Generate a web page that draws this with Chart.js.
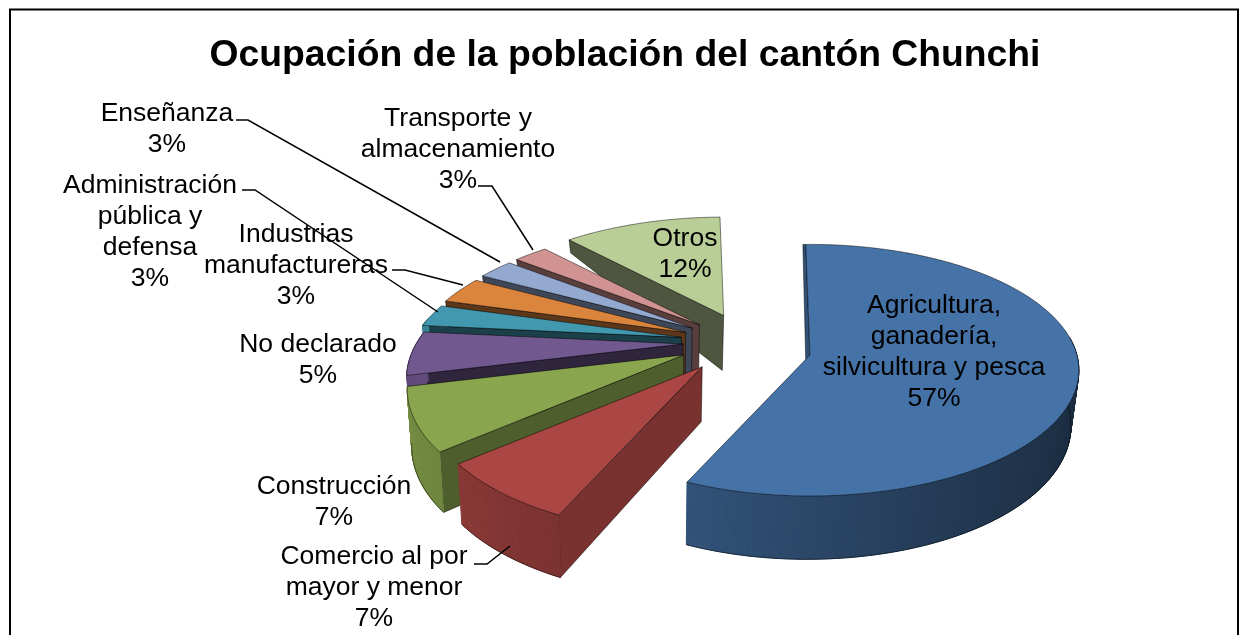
<!DOCTYPE html>
<html><head><meta charset="utf-8">
<style>html,body{margin:0;padding:0;background:#fff;overflow:hidden}#w{width:1240px;height:635px}</style>
<script src="https://cdn.jsdelivr.net/npm/chart.js@4"></script></head>
<body><div id="w"><canvas id="c" width="1240" height="635"></canvas></div>
<script>
const categories = ["Agricultura, ganadería, silvicultura y pesca","Comercio al por mayor y menor","Construcción","No declarado","Administración pública y defensa","Industrias manufactureras","Enseñanza","Transporte y almacenamiento","Otros"];
const percentages = [57,7,7.45,5.4,2.8,3.45,2.6,2.5,11.8];
const sliceColors = ["#4572A7","#AA4643","#89A54E","#71588F","#4198AF","#DB843D","#93A9CF","#D19392","#B9CD96"];
const explosion = [21,33,30,27,28,28,28,28,31];
const titleText = "Ocupación de la población del cantón Chunchi";
const labelLines = [
 ["Agricultura,","ganadería,","silvicultura y pesca","57%"],
 ["Comercio al por","mayor y menor","7%"],
 ["Construcción","7%"],
 ["No declarado","5%"],
 ["Administración","pública y","defensa","3%"],
 ["Industrias","manufactureras","3%"],
 ["Enseñanza","3%"],
 ["Transporte y","almacenamiento","3%"],
 ["Otros","12%"]];
const labelAnchors = [[934,306],[374,557],[334,487],[318,345],[150,186],[296,235],[167,114],[458,119],[685,239]];
const leaderLines = [
 [[474,564],[487,564],[510,546]],
 [[242,190],[255,190],[438,312]],
 [[392,270],[405,270],[463,285]],
 [[236,120],[248,120],[500,262]],
 [[478,186],[492,186],[533,250]]];
const view = {panX:130, rx:267, ry:124, perspNear:0.12, perspFar:0.26, liftNear:9, depth:55, vanishX:650, shrink:0.0186, vExplode:0.75};

function rgb(hex){const n=parseInt(hex.slice(1),16);return [(n>>16)&255,(n>>8)&255,n&255];}
function shade(c,f){return `rgb(${c.map(x=>Math.round(x*f)).join(",")})`;}

const pie3d = {
 id:"pie3d",
 beforeDatasetDraw(chart,args){
  const ctx=chart.ctx, arcs=chart.getDatasetMeta(args.index).data;
  const list=arcs.map((arc)=>{
    const s=arc.startAngle+Math.PI/2, t=arc.endAngle+Math.PI/2, m=(s+t)/2;
    return {arc,s,t,m,mu:Math.sin(m),mv:-Math.cos(m),e:arc.options.offset/100,col:rgb(arc.options.backgroundColor)};
  }).sort((a,b)=>a.mv-b.mv);
  ctx.save();
  ctx.lineJoin="round";
  for(const q of list){
    const far=q.e>=0.25, p=far?view.perspFar:view.perspNear;
    const ax=q.arc.x+view.panX+view.rx*q.e*q.mu;
    const ay=q.arc.y+view.ry*view.vExplode*q.e*q.mv+(far?0:view.liftNear);
    const P=(a,r,z)=>{
      const u=Math.sin(a)*r, v=-Math.cos(a)*r, w=1-p*v;
      const d=v>=0?1+0.15*v:Math.max(0,1+1.05*v);
      let x=ax+view.rx*u/w, y=ay+view.ry*v/w+z*view.depth*d;
      x=view.vanishX+(x-view.vanishX)*(1-view.shrink*z);
      return [x,y];
    };
    const path=k0=>{ctx.beginPath();k0.forEach((k,j)=>j?ctx.lineTo(k[0],k[1]):ctx.moveTo(k[0],k[1]));};
    const poly=(k0,fill,edge)=>{path(k0);ctx.closePath();ctx.fillStyle=fill;ctx.fill();ctx.strokeStyle=edge;ctx.lineWidth=0.8;ctx.stroke();};
    const edge="rgba(0,0,0,0.6)";
    const mid=P(q.m,0.7,0), apex=P(q.s,0,0), down=[P(q.s,0,1)[0]-apex[0],P(q.s,0,1)[1]-apex[1]];
    const cross=(a,b)=>a[0]*b[1]-a[1]*b[0];
    for(const ang of [q.s,q.t]){
      const rim=P(ang,1,0), dir=[rim[0]-apex[0],rim[1]-apex[1]], inn=[mid[0]-apex[0],mid[1]-apex[1]];
      if(cross(dir,down)*cross(dir,inn)<0){
        const deg=ang*180/Math.PI;
        const f=Math.max(0.42,Math.min(0.71,0.71-(deg-205)*0.0058));
        poly([rim,P(ang,1,1),P(ang,0,1),apex],shade(q.col,f),edge);
      }
    }
    const N=Math.max(4,Math.ceil((q.t-q.s)*90));
    const bottom=[], top=[apex];
    for(let j=0;j<N;j++){
      const a=q.s+(q.t-q.s)*j/N, b=q.s+(q.t-q.s)*(j+1)/N, h=(a+b)/2;
      if(Math.cos(h)<0.15){
        const c=shade(q.col,Math.max(0.38,0.62-0.24*Math.sin(h)));
        path([P(a,1,0),P(b,1,0),P(b,1,1),P(a,1,1)]);ctx.closePath();
        ctx.fillStyle=c;ctx.strokeStyle=c;ctx.lineWidth=1;ctx.fill();ctx.stroke();
        if(!bottom.length)bottom.push(P(a,1,1));
        bottom.push(P(b,1,1));
      }
    }
    if(bottom.length){path(bottom);ctx.strokeStyle=edge;ctx.lineWidth=0.8;ctx.stroke();}
    for(let j=0;j<=N;j++)top.push(P(q.s+(q.t-q.s)*j/N,1,0));
    poly(top,`rgb(${q.col.join(",")})`,edge);
  }
  ctx.restore();
  return false;
 },
 afterDraw(chart){
  const ctx=chart.ctx;
  ctx.save();
  ctx.strokeStyle="#000";ctx.lineWidth=2;ctx.strokeRect(10,9.5,1228,700);
  ctx.lineWidth=1.5;
  for(const l of leaderLines){ctx.beginPath();l.forEach((k,j)=>j?ctx.lineTo(k[0],k[1]):ctx.moveTo(k[0],k[1]));ctx.stroke();}
  ctx.fillStyle="#000";ctx.font='26.5px "Liberation Sans"';ctx.textAlign="center";ctx.textBaseline="middle";
  labelLines.forEach((lines,i)=>lines.forEach((t,j)=>ctx.fillText(t,labelAnchors[i][0],labelAnchors[i][1]+j*30.8)));
  ctx.restore();
 }
};
Chart.defaults.animation=false;
new Chart(document.getElementById("c"),{
 type:"pie",
 data:{labels:categories,datasets:[{data:percentages,backgroundColor:sliceColors,offset:explosion,borderWidth:0,hoverOffset:0}]},
 options:{responsive:false,rotation:-1,events:[],
  layout:{padding:{left:10,right:0,top:0,bottom:28.4}},
  plugins:{legend:{display:false},tooltip:{enabled:false},
   title:{display:true,text:titleText,color:"#000",font:{family:'"Liberation Sans"',size:37.3,weight:"bold"},padding:{top:33,bottom:0}}}},
 plugins:[pie3d]
});
</script></body></html>
